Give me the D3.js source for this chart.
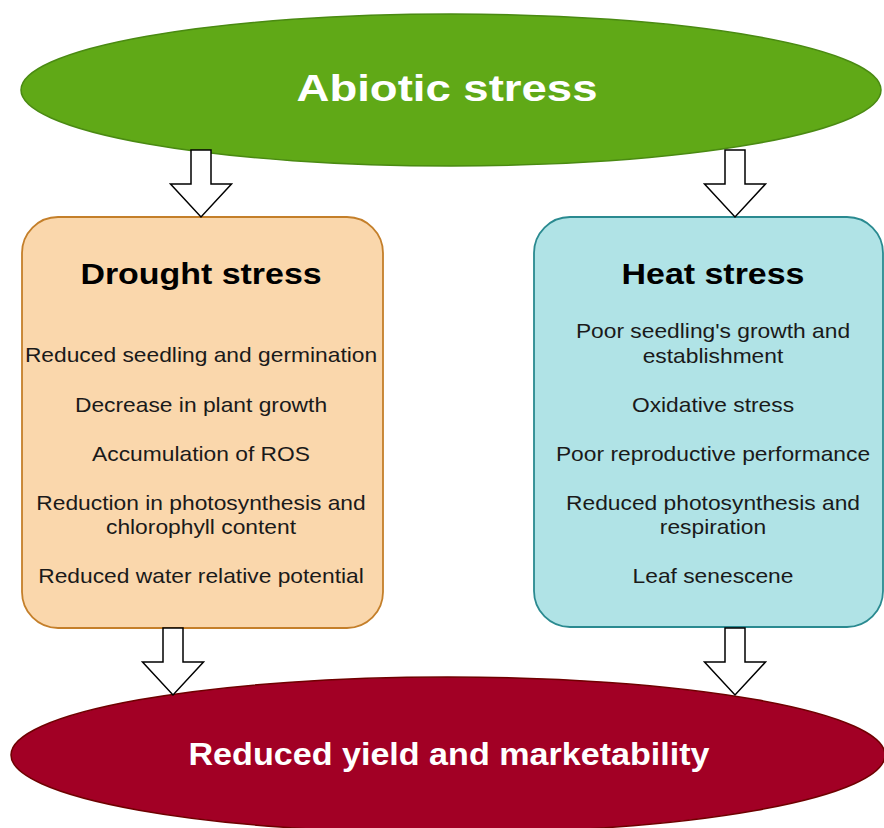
<!DOCTYPE html>
<html>
<head>
<meta charset="utf-8">
<script src="https://cdn.jsdelivr.net/npm/d3@7"></script>
<style>
  html, body { margin: 0; padding: 0; background: #ffffff; }
  svg { display: block; }
</style>
</head>
<body>
<svg id="chart" width="884" height="828"></svg>
<script>
// ---------- DATA ----------
const topNode = "Abiotic stress";
const bottomNode = "Reduced yield and marketability";
const boxTitles = ["Drought stress", "Heat stress"];
const droughtItems = [
  ["Reduced seedling and germination"],
  ["Decrease in plant growth"],
  ["Accumulation of ROS"],
  ["Reduction in photosynthesis and", "chlorophyll content"],
  ["Reduced water relative potential"]
];
const heatItems = [
  ["Poor seedling's growth and", "establishment"],
  ["Oxidative stress"],
  ["Poor reproductive performance"],
  ["Reduced photosynthesis and", "respiration"],
  ["Leaf senescene"]
];

// ---------- LAYOUT / STYLE ----------
const FONT = "'Liberation Sans', Arial, Helvetica, sans-serif";
const svg = d3.select("#chart");

const boxes = [
  { title: boxTitles[0], items: droughtItems, x: 22, y: 217, w: 361, h: 411,
    fill: "#fad7ac", stroke: "#c47f2a", textX: 201,
    lineCenters: [[354], [404], [453], [502, 526], [575]],
    arrowTop: 201, arrowBottom: 173 },
  { title: boxTitles[1], items: heatItems, x: 534, y: 217, w: 349, h: 410,
    fill: "#b0e3e6", stroke: "#2a8a90", textX: 713,
    lineCenters: [[330, 355], [404], [453], [502, 526], [575]],
    arrowTop: 735, arrowBottom: 735 }
];

// stretched text helper
function stretchedText(parent, str, cx, baseline, size, weight, color, sx) {
  parent.append("g")
    .attr("transform", `translate(${cx},${baseline}) scale(${sx},1)`)
    .append("text")
    .attr("text-anchor", "middle")
    .attr("font-family", FONT)
    .attr("font-size", size)
    .attr("font-weight", weight)
    .attr("fill", color)
    .text(str);
}

// block arrow path generator (draw.io style)
function arrowPath(cx, top, headStart, tip) {
  const sw = 10, hw = 30.5;
  const p = d3.path();
  p.moveTo(cx - sw, top);
  p.lineTo(cx + sw, top);
  p.lineTo(cx + sw, headStart);
  p.lineTo(cx + hw, headStart);
  p.lineTo(cx, tip);
  p.lineTo(cx - hw, headStart);
  p.lineTo(cx - sw, headStart);
  p.closePath();
  return p.toString();
}

// ---------- TOP ELLIPSE ----------
svg.append("ellipse")
  .attr("cx", 451).attr("cy", 90).attr("rx", 430).attr("ry", 76)
  .attr("fill", "#60a917").attr("stroke", "#4a8a12").attr("stroke-width", 1.5);
stretchedText(svg, topNode, 447, 101, 37, "bold", "#ffffff", 1.23);

// ---------- BOTTOM ELLIPSE ----------
svg.append("ellipse")
  .attr("cx", 448).attr("cy", 755).attr("rx", 437).attr("ry", 78)
  .attr("fill", "#a20025").attr("stroke", "#6f0000").attr("stroke-width", 1.5);
stretchedText(svg, bottomNode, 449, 765, 31, "bold", "#ffffff", 1.1);

// ---------- BOXES ----------
const g = svg.selectAll("g.box").data(boxes).join("g").attr("class", "box");
g.append("rect")
  .attr("x", d => d.x).attr("y", d => d.y)
  .attr("width", d => d.w).attr("height", d => d.h)
  .attr("rx", 36).attr("ry", 36)
  .attr("fill", d => d.fill).attr("stroke", d => d.stroke).attr("stroke-width", 1.8);

g.each(function(d) {
  const sel = d3.select(this);
  stretchedText(sel, d.title, d.textX, 284, 29, "bold", "#000000", 1.17);
  d.items.forEach((lines, i) => {
    lines.forEach((ln, j) => {
      stretchedText(sel, ln, d.textX, d.lineCenters[i][j] + 7.5, 20, "normal", "#1a1a1a", 1.14);
    });
  });
});

// ---------- ARROWS ----------
boxes.forEach(b => {
  svg.append("path").attr("d", arrowPath(b.arrowTop, 150, 184, 217))
    .attr("fill", "#ffffff").attr("stroke", "#000000").attr("stroke-width", 1.5)
    .attr("stroke-linejoin", "miter");
  svg.append("path").attr("d", arrowPath(b.arrowBottom, 628, 662, 695))
    .attr("fill", "#ffffff").attr("stroke", "#000000").attr("stroke-width", 1.5)
    .attr("stroke-linejoin", "miter");
});
</script>
</body>
</html>
